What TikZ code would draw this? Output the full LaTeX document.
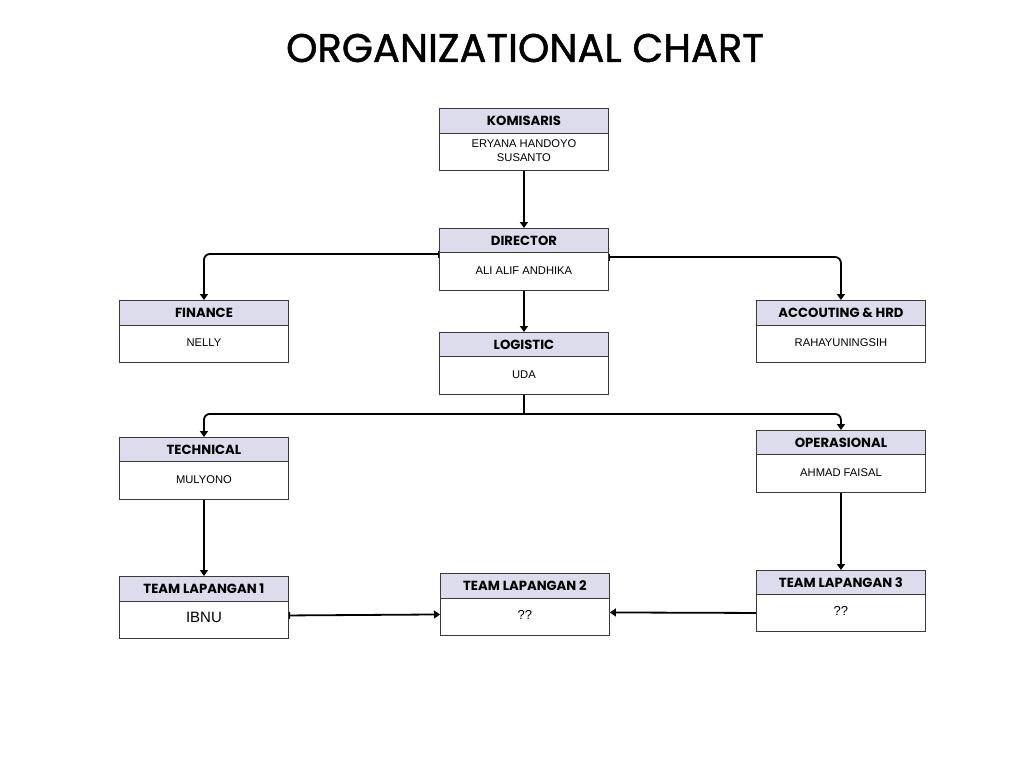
\documentclass[tikz,border=0pt]{standalone}
\usepackage{fontspec}
\setmainfont{Liberation Sans}
\newfontfamily\hdrfont{Poppins}
\newfontfamily\titlefont[FakeBold=1.2]{Poppins}
\usetikzlibrary{arrows.meta}
\definecolor{hdrfill}{HTML}{DCDCEC}
\definecolor{boxline}{HTML}{3A3A3A}
\tikzset{
  hdr/.style={draw=boxline, line width=0.9pt, fill=hdrfill, minimum width=169pt, inner sep=0pt, font=\hdrfont\bfseries\fontsize{13.2}{14}\selectfont},
  bdy/.style={draw=boxline, line width=0.9pt, fill=white, minimum width=169pt, inner sep=0pt, align=center, font=\fontsize{11.2}{15}\selectfont},
  conn/.style={draw=black, line width=1.8pt, -{Triangle[width=8pt,length=6pt]}},
  barstart/.style={{Bar[width=7pt,line width=1.2pt]}-{Triangle[width=8pt,length=6pt]}}
}
\newcommand{\orgbox}[7]{%
  \node[hdr, minimum height=#4pt, anchor=north west] (#1h) at (#2,#3) {#6};
  \node[bdy, minimum height=#5pt, anchor=north west] (#1b) at ({#2},{#3+#4}) {\raisebox{2pt}{\begin{tabular}{@{}c@{}}#7\end{tabular}}};
}
\begin{document}
\begin{tikzpicture}[x=1pt,y=-1pt]
\useasboundingbox (0,0) rectangle (1024,768);
\node[font=\titlefont\fontsize{40}{44}\selectfont] (title) at (525,48) {ORGANIZATIONAL CHART};
\orgbox{kom}{439}{108}{25}{37}{KOMISARIS}{ERYANA HANDOYO\\[-1pt]SUSANTO}
\orgbox{dir}{439}{228}{24}{38}{DIRECTOR}{ALI ALIF ANDHIKA}
\orgbox{fin}{119}{300}{25}{37}{FINANCE}{NELLY}
\orgbox{acc}{756}{300}{25}{37}{ACCOUTING \& HRD}{RAHAYUNINGSIH}
\orgbox{log}{439}{332}{24}{38}{LOGISTIC}{UDA}
\orgbox{tec}{119}{437}{24}{38}{TECHNICAL}{MULYONO}
\orgbox{ope}{756}{430}{24}{38}{OPERASIONAL}{AHMAD FAISAL}
\orgbox{tla}{119}{576}{25}{37}{TEAM LAPANGAN 1}{\fontsize{15}{17}\selectfont IBNU}
\orgbox{tlb}{440}{573}{25}{37}{TEAM LAPANGAN 2}{\fontsize{13}{15}\selectfont ??}
\orgbox{tlc}{756}{570}{24}{37}{TEAM LAPANGAN 3}{\fontsize{13}{15}\selectfont ??}
% connectors
\draw[conn] (komb.south) -- (dirh.north);
\draw[conn, barstart, rounded corners=6pt] ([yshift=-2pt]dirb.north west) -| (finh.north);
\draw[conn, barstart, rounded corners=6pt] ([yshift=-5pt]dirb.north east) -| (acch.north);
\draw[conn] (dirb.south) -- (logh.north);
\coordinate (split) at ([yshift=-19pt]logb.south);
\draw[line width=1.8pt] (logb.south) -- (split);
\draw[conn, rounded corners=6pt] (split) -| (tech.north);
\draw[conn, rounded corners=6pt] (split) -| (opeh.north);
\draw[conn] (tecb.south) -- (tlah.north);
\draw[conn] (opeb.south) -- (tlch.north);
\draw[conn, barstart] ([yshift=4.5pt]tlab.east) -- ([yshift=2.5pt]tlbb.west);
\draw[conn] (tlcb.west) -- ([yshift=4.5pt]tlbb.east);
\end{tikzpicture}
\end{document}
